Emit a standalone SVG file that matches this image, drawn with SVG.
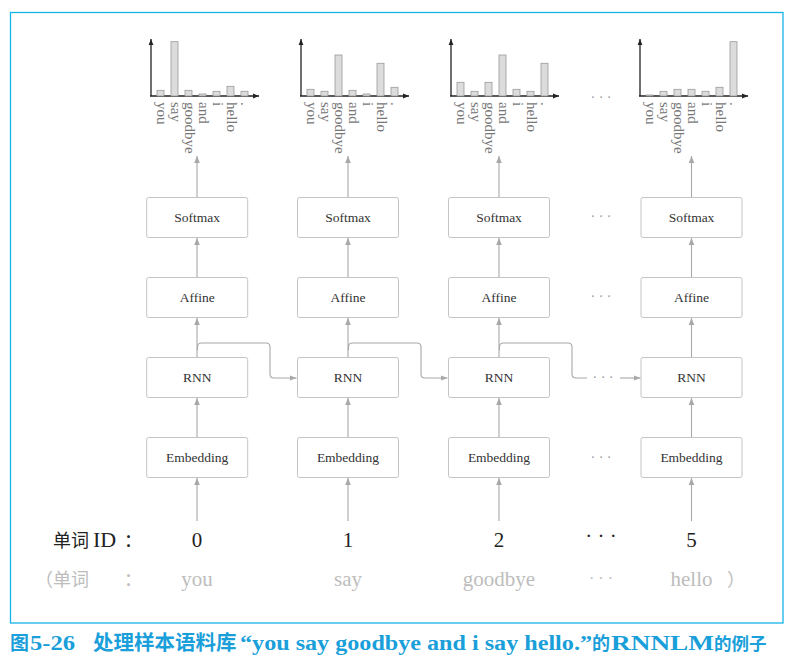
<svg xmlns="http://www.w3.org/2000/svg" width="789" height="664" viewBox="0 0 789 664">
<style>
.box{fill:#fff;stroke:#c4c4c4;stroke-width:1}
.bl{font-family:"Liberation Serif",serif;font-size:13.5px;fill:#333;text-anchor:middle}
.con{fill:none;stroke:#a8a8a8;stroke-width:1.1}
.bar{fill:#dcdcdc;stroke:#9a9a9a;stroke-width:0.8}
.ax{stroke:#222;stroke-width:1.3;fill:none}
.wl{font-family:"Liberation Serif",serif;font-size:15px;fill:#777}
.dots{font-family:"Liberation Serif",serif;font-size:14px;fill:#999;text-anchor:middle}
.num{font-family:"Liberation Serif",serif;font-size:21px;fill:#222;text-anchor:middle}
.gr{font-family:"Liberation Serif",serif;font-size:21px;fill:#bdbdbd;text-anchor:middle}
.cjk{font-family:"Noto Sans CJK SC",sans-serif;font-size:18px}
.cap{fill:#1a9fda;font-weight:bold}
.capl{font-family:"Liberation Serif",serif;font-size:20px}
</style>
<defs>
<marker id="ga" viewBox="0 0 10 10" refX="10" refY="5" markerWidth="7" markerHeight="7" markerUnits="userSpaceOnUse" orient="auto"><path d="M0,1 L10,5 L0,9 z" fill="#a8a8a8"/></marker>
<marker id="ka" viewBox="0 0 10 10" refX="10" refY="5" markerWidth="6" markerHeight="6" markerUnits="userSpaceOnUse" orient="auto"><path d="M0,1 L10,5 L0,9 z" fill="#222"/></marker>
</defs>
<rect x="10.5" y="12.5" width="772.5" height="610.5" fill="none" stroke="#16b4ea" stroke-width="1.3"/>

<g id="chart1" transform="translate(151,0)">
<line class="ax" x1="0" y1="96" x2="0" y2="39" marker-end="url(#ka)"/>
<line class="ax" x1="-1" y1="96" x2="108" y2="96" marker-end="url(#ka)"/>
<rect class="bar" x="6" y="90.3" width="7" height="5.7"/>
<rect class="bar" x="20" y="41.7" width="7" height="54.3"/>
<rect class="bar" x="34" y="90.3" width="7" height="5.7"/>
<rect class="bar" x="48" y="94" width="7" height="2"/>
<rect class="bar" x="62" y="91.3" width="7" height="4.7"/>
<rect class="bar" x="76" y="86.3" width="7" height="9.7"/>
<rect class="bar" x="90" y="91.3" width="7" height="4.7"/>
<text class="wl" transform="translate(6,102) rotate(90)">you</text>
<text class="wl" transform="translate(20,102) rotate(90)">say</text>
<text class="wl" transform="translate(34,102) rotate(90)">goodbye</text>
<text class="wl" transform="translate(48,102) rotate(90)">and</text>
<text class="wl" transform="translate(62,102) rotate(90)">i</text>
<text class="wl" transform="translate(76,102) rotate(90)">hello</text>
<text class="wl" transform="translate(90,102) rotate(90)">.</text>
</g>

<g id="chart2" transform="translate(301,0)">
<line class="ax" x1="0" y1="96" x2="0" y2="39" marker-end="url(#ka)"/>
<line class="ax" x1="-1" y1="96" x2="108" y2="96" marker-end="url(#ka)"/>
<rect class="bar" x="6" y="89.3" width="7" height="6.7"/>
<rect class="bar" x="20" y="91.3" width="7" height="4.7"/>
<rect class="bar" x="34" y="55" width="7" height="41"/>
<rect class="bar" x="48" y="90.3" width="7" height="5.7"/>
<rect class="bar" x="62" y="94" width="7" height="2"/>
<rect class="bar" x="76" y="63.3" width="7" height="32.7"/>
<rect class="bar" x="90" y="87.3" width="7" height="8.7"/>
<text class="wl" transform="translate(6,102) rotate(90)">you</text>
<text class="wl" transform="translate(20,102) rotate(90)">say</text>
<text class="wl" transform="translate(34,102) rotate(90)">goodbye</text>
<text class="wl" transform="translate(48,102) rotate(90)">and</text>
<text class="wl" transform="translate(62,102) rotate(90)">i</text>
<text class="wl" transform="translate(76,102) rotate(90)">hello</text>
<text class="wl" transform="translate(90,102) rotate(90)">.</text>
</g>

<g id="chart3" transform="translate(451,0)">
<line class="ax" x1="0" y1="96" x2="0" y2="39" marker-end="url(#ka)"/>
<line class="ax" x1="-1" y1="96" x2="108" y2="96" marker-end="url(#ka)"/>
<rect class="bar" x="6" y="82.3" width="7" height="13.7"/>
<rect class="bar" x="20" y="91.3" width="7" height="4.7"/>
<rect class="bar" x="34" y="82.3" width="7" height="13.7"/>
<rect class="bar" x="48" y="55" width="7" height="41"/>
<rect class="bar" x="62" y="89.3" width="7" height="6.7"/>
<rect class="bar" x="76" y="91.3" width="7" height="4.7"/>
<rect class="bar" x="90" y="63.3" width="7" height="32.7"/>
<text class="wl" transform="translate(6,102) rotate(90)">you</text>
<text class="wl" transform="translate(20,102) rotate(90)">say</text>
<text class="wl" transform="translate(34,102) rotate(90)">goodbye</text>
<text class="wl" transform="translate(48,102) rotate(90)">and</text>
<text class="wl" transform="translate(62,102) rotate(90)">i</text>
<text class="wl" transform="translate(76,102) rotate(90)">hello</text>
<text class="wl" transform="translate(90,102) rotate(90)">.</text>
</g>

<g id="chart4" transform="translate(640,0)">
<line class="ax" x1="0" y1="96" x2="0" y2="39" marker-end="url(#ka)"/>
<line class="ax" x1="-1" y1="96" x2="108" y2="96" marker-end="url(#ka)"/>
<rect class="bar" x="6" y="95" width="7" height="1"/>
<rect class="bar" x="20" y="91.3" width="7" height="4.7"/>
<rect class="bar" x="34" y="89.3" width="7" height="6.7"/>
<rect class="bar" x="48" y="89.3" width="7" height="6.7"/>
<rect class="bar" x="62" y="91.3" width="7" height="4.7"/>
<rect class="bar" x="76" y="87.3" width="7" height="8.7"/>
<rect class="bar" x="90" y="41.7" width="7" height="54.3"/>
<text class="wl" transform="translate(6,102) rotate(90)">you</text>
<text class="wl" transform="translate(20,102) rotate(90)">say</text>
<text class="wl" transform="translate(34,102) rotate(90)">goodbye</text>
<text class="wl" transform="translate(48,102) rotate(90)">and</text>
<text class="wl" transform="translate(62,102) rotate(90)">i</text>
<text class="wl" transform="translate(76,102) rotate(90)">hello</text>
<text class="wl" transform="translate(90,102) rotate(90)">.</text>
</g>

<g id="connectors">
<path class="con" d="M197,521 V478" marker-end="url(#ga)"/>
<path class="con" d="M197,437.5 V398" marker-end="url(#ga)"/>
<path class="con" d="M197,357.5 V318" marker-end="url(#ga)"/>
<path class="con" d="M197,277.5 V238" marker-end="url(#ga)"/>
<path class="con" d="M197,197.5 V156" marker-end="url(#ga)"/>
<path class="con" d="M348,521 V478" marker-end="url(#ga)"/>
<path class="con" d="M348,437.5 V398" marker-end="url(#ga)"/>
<path class="con" d="M348,357.5 V318" marker-end="url(#ga)"/>
<path class="con" d="M348,277.5 V238" marker-end="url(#ga)"/>
<path class="con" d="M348,197.5 V156" marker-end="url(#ga)"/>
<path class="con" d="M499,521 V478" marker-end="url(#ga)"/>
<path class="con" d="M499,437.5 V398" marker-end="url(#ga)"/>
<path class="con" d="M499,357.5 V318" marker-end="url(#ga)"/>
<path class="con" d="M499,277.5 V238" marker-end="url(#ga)"/>
<path class="con" d="M499,197.5 V156" marker-end="url(#ga)"/>
<path class="con" d="M691.5,521 V478" marker-end="url(#ga)"/>
<path class="con" d="M691.5,437.5 V398" marker-end="url(#ga)"/>
<path class="con" d="M691.5,357.5 V318" marker-end="url(#ga)"/>
<path class="con" d="M691.5,277.5 V238" marker-end="url(#ga)"/>
<path class="con" d="M691.5,197.5 V156" marker-end="url(#ga)"/>
<path class="con" d="M197.5,350 V347 Q197.5,343 201.5,343 H266 Q270,343 270,347 V374 Q270,378 274,378 H296.5" marker-end="url(#ga)"/>
<path class="con" d="M348.5,350 V347 Q348.5,343 352.5,343 H417 Q421,343 421,347 V374 Q421,378 425,378 H447.5" marker-end="url(#ga)"/>
<path class="con" d="M499.5,350 V347 Q499.5,343 503.5,343 H568 Q572,343 572,347 V374 Q572,378 576,378 H587"/>
<path class="con" d="M620,378 H640.5" marker-end="url(#ga)"/>
</g>
<text class="dots" x="603" y="382">· · ·</text>

<g id="softmax1"><rect class="box" x="146.7" y="197.5" width="101" height="40" rx="2"/><text class="bl" x="197.2" y="221.5">Softmax</text></g>
<g id="affine1"><rect class="box" x="146.7" y="277.5" width="101" height="40" rx="2"/><text class="bl" x="197.2" y="301.5">Affine</text></g>
<g id="rnn1"><rect class="box" x="146.7" y="357.5" width="101" height="40" rx="2"/><text class="bl" x="197.2" y="382">RNN</text></g>
<g id="emb1"><rect class="box" x="146.7" y="437.5" width="101" height="40" rx="2"/><text class="bl" x="197.2" y="462">Embedding</text></g>

<g id="softmax2"><rect class="box" x="297.5" y="197.5" width="101" height="40" rx="2"/><text class="bl" x="348" y="221.5">Softmax</text></g>
<g id="affine2"><rect class="box" x="297.5" y="277.5" width="101" height="40" rx="2"/><text class="bl" x="348" y="301.5">Affine</text></g>
<g id="rnn2"><rect class="box" x="297.5" y="357.5" width="101" height="40" rx="2"/><text class="bl" x="348" y="382">RNN</text></g>
<g id="emb2"><rect class="box" x="297.5" y="437.5" width="101" height="40" rx="2"/><text class="bl" x="348" y="462">Embedding</text></g>

<g id="softmax3"><rect class="box" x="448.5" y="197.5" width="101" height="40" rx="2"/><text class="bl" x="499" y="221.5">Softmax</text></g>
<g id="affine3"><rect class="box" x="448.5" y="277.5" width="101" height="40" rx="2"/><text class="bl" x="499" y="301.5">Affine</text></g>
<g id="rnn3"><rect class="box" x="448.5" y="357.5" width="101" height="40" rx="2"/><text class="bl" x="499" y="382">RNN</text></g>
<g id="emb3"><rect class="box" x="448.5" y="437.5" width="101" height="40" rx="2"/><text class="bl" x="499" y="462">Embedding</text></g>

<g id="softmax4"><rect class="box" x="641" y="197.5" width="101" height="40" rx="2"/><text class="bl" x="691.5" y="221.5">Softmax</text></g>
<g id="affine4"><rect class="box" x="641" y="277.5" width="101" height="40" rx="2"/><text class="bl" x="691.5" y="301.5">Affine</text></g>
<g id="rnn4"><rect class="box" x="641" y="357.5" width="101" height="40" rx="2"/><text class="bl" x="691.5" y="382">RNN</text></g>
<g id="emb4"><rect class="box" x="641" y="437.5" width="101" height="40" rx="2"/><text class="bl" x="691.5" y="462">Embedding</text></g>

<g id="ellipses">
<text class="dots" x="601" y="102">· · ·</text>
<text class="dots" x="601" y="221">· · ·</text>
<text class="dots" x="601" y="301">· · ·</text>
<text class="dots" x="601" y="462">· · ·</text>
</g>

<g id="ids">
<text class="cjk" x="53" y="547" fill="#222">单词</text>
<text x="93" y="547" font-family="Liberation Serif, serif" font-size="22" fill="#222">ID</text>
<text class="cjk" x="124" y="547" fill="#222">：</text>
<text class="num" x="197" y="547">0</text>
<text class="num" x="348" y="547">1</text>
<text class="num" x="499" y="547">2</text>
<text class="num" x="601" y="543">· · ·</text>
<text class="num" x="691.5" y="547">5</text>
</g>
<g id="words">
<text class="cjk" x="35" y="586" fill="#bdbdbd">（单词</text>
<text class="cjk" x="124" y="586" fill="#bdbdbd">：</text>
<text class="gr" x="197" y="586">you</text>
<text class="gr" x="348" y="586">say</text>
<text class="gr" x="499" y="586">goodbye</text>
<text class="gr" x="601" y="584" style="font-size:16px">· · ·</text>
<text class="gr" x="691.5" y="586">hello</text>
<text class="cjk" x="727" y="586" fill="#bdbdbd">）</text>
</g>

<g id="caption" class="cap">
<text class="cjk" x="10" y="650" style="font-size:19px">图</text>
<text class="capl" x="30" y="650" textLength="45" lengthAdjust="spacingAndGlyphs">5-26</text>
<text class="cjk" x="93" y="650" style="font-size:20.5px">处理样本语料库</text>
<text class="capl" x="240" y="650" textLength="352" lengthAdjust="spacingAndGlyphs">“you say goodbye and i say hello.”</text>
<text class="cjk" x="592" y="650" style="font-size:18px">的</text>
<text class="capl" x="611" y="650" textLength="103" lengthAdjust="spacingAndGlyphs">RNNLM</text>
<text class="cjk" x="714" y="650" style="font-size:17.5px">的例子</text>
</g>
</svg>
